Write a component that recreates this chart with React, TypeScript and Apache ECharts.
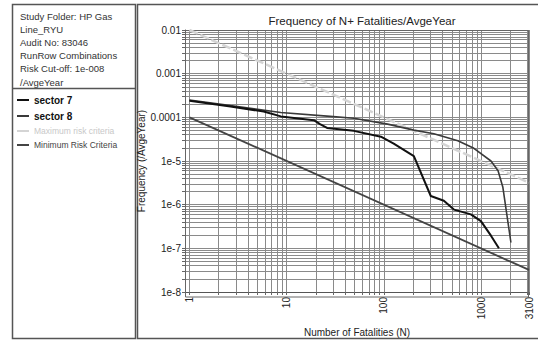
import React, { useEffect, useRef } from 'react';
import * as echarts from 'echarts';

// Series data (N fatalities, frequency per average year)
const sector7N = [1, 2.64, 5.8, 8.7, 19, 22, 26, 49, 93, 126, 203, 303, 413, 524, 783, 993, 1260, 1520];
const sector7F = [2.4e-4, 1.76e-4, 1.36e-4, 1.05e-4, 8.6e-5, 7.0e-5, 5.7e-5, 4.9e-5, 3.6e-5, 2.5e-5, 1.29e-5, 1.58e-6, 1.23e-6, 7.7e-7, 6.0e-7, 4.2e-7, 1.95e-7, 1.0e-7];
const sector8N = [1, 2.64, 8.7, 28, 49, 109, 203, 326, 575, 841, 1260, 1490, 1670, 2020];
const sector8F = [2.5e-4, 1.85e-4, 1.29e-4, 1.05e-4, 9.5e-5, 7.0e-5, 5.1e-5, 4.2e-5, 2.9e-5, 1.95e-5, 1.0e-5, 6.0e-6, 2.5e-6, 1.36e-7];
const criteriaN = [1, 3100];
const maxRiskF = [1e-2, 3.2e-6];
const minRiskF = [1e-4, 3.2e-8];

const xLabelValues = [1, 10, 100, 1000, 3100];
const yLabelValues = [1e-8, 1e-7, 1e-6, 1e-5, 1e-4, 1e-3, 1e-2];
const xDecades = [0, 1, 2, 3];
const yDecades = [-8, -7, -6, -5, -4, -3];
const multipliers = [1, 2, 3, 4, 5, 6, 7, 8, 9];

const infoLines = [
  'Study Folder: HP Gas',
  'Line_RYU',
  'Audit No: 83046',
  'RunRow Combinations',
  'Risk Cut-off: 1e-008',
  '/AvgeYear',
];

const FONT = '"Liberation Sans", Arial, sans-serif';

function gridValues(decades: number[], maxV: number) {
  const out: number[] = [];
  decades.forEach((e) => {
    multipliers.forEach((k) => {
      const v = Number((k * Math.pow(10, e)).toPrecision(3));
      if (v <= maxV) out.push(v);
    });
  });
  if (out[out.length - 1] !== maxV) out.push(maxV);
  return out;
}

const pairs = (xs: number[], ys: number[]) => xs.map((x, i) => [x, ys[i]]);

export default function App() {
  const ref = useRef<HTMLDivElement>(null);
  useEffect(() => {
    document.body.style.margin = '0';
    if (!ref.current) return;
    const chart = echarts.init(ref.current, undefined, { renderer: 'svg' });
    const xTicks = gridValues(xDecades, 3100);
    const yTicks = gridValues(yDecades, 1e-2);
    const gridColor = '#8a8a8a';
    chart.setOption({
      animation: false,
      backgroundColor: '#fff',
      title: {
        text: 'Frequency of N+ Fatalities/AvgeYear',
        left: 357,
        textAlign: 'center',
        top: 10,
        textStyle: { fontFamily: FONT, fontSize: 11.5, fontWeight: 'normal', color: '#222' },
      },
      legend: {
        orient: 'vertical',
        left: 17,
        top: 93,
        padding: 0,
        itemWidth: 12,
        itemHeight: 2,
        itemGap: 2,
        icon: 'rect',
        data: [
          { name: 'sector 7', textStyle: { fontWeight: 'bold', fontSize: 10, color: '#111', lineHeight: 14 } },
          { name: 'sector 8', textStyle: { fontWeight: 'bold', fontSize: 10, color: '#111', lineHeight: 14 } },
          { name: 'Maximum risk criteria', textStyle: { fontSize: 8.5, color: '#c8c8c8', lineHeight: 12 } },
          { name: 'Minimum Risk Criteria', textStyle: { fontSize: 8.5, color: '#444', lineHeight: 12 } },
        ],
        textStyle: { fontFamily: FONT, padding: [0, 0, 0, 0] },
      },
      grid: { left: 185, right: 9, top: 30, bottom: 45, containLabel: false },
      xAxis: {
        type: 'log',
        min: 0.9,
        max: 3100,
        name: 'Number of Fatalities (N)',
        nameLocation: 'middle',
        nameGap: 35,
        nameMoveOverlap: false,
        nameTextStyle: { fontFamily: FONT, fontSize: 10, color: '#222' },
        axisLine: { show: true, lineStyle: { color: '#555', width: 1 } },
        axisTick: { show: true, length: 3, customValues: xTicks, lineStyle: { color: '#666' } },
        axisLabel: {
          customValues: xLabelValues,
          rotate: 90,
          margin: 5,
          fontFamily: FONT,
          fontSize: 10,
          color: '#222',
          formatter: (v: number) => String(Math.round(v)),
        },
        splitLine: { show: true, lineStyle: { color: gridColor, width: 1 } },
        minorSplitLine: { show: false },
      },
      yAxis: {
        type: 'log',
        min: 1e-8,
        max: 1e-2,
        name: 'Frequency (/AvgeYear)',
        nameLocation: 'middle',
        nameGap: 39,
        nameMoveOverlap: false,
        nameTextStyle: { fontFamily: FONT, fontSize: 10, color: '#222' },
        axisLine: { show: true, lineStyle: { color: '#555', width: 1 } },
        axisTick: { show: true, length: 3, customValues: yTicks, lineStyle: { color: '#666' } },
        axisLabel: {
          customValues: yLabelValues,
          margin: 4,
          fontFamily: FONT,
          fontSize: 10,
          color: '#222',
          formatter: (v: number) => {
            const e = Math.round(Math.log10(v));
            return e >= -4 ? String(Math.pow(10, e)) : `1e${e}`;
          },
        },
        splitLine: { show: true, lineStyle: { color: gridColor, width: 1 } },
      },
      series: [
        {
          name: 'sector 7',
          type: 'line',
          data: pairs(sector7N, sector7F),
          showSymbol: false,
          symbol: 'none',
          lineStyle: { color: '#111', width: 2 },
          itemStyle: { color: '#111' },
          z: 5,
        },
        {
          name: 'sector 8',
          type: 'line',
          data: pairs(sector8N, sector8F),
          showSymbol: false,
          symbol: 'none',
          lineStyle: { color: '#3a3a3a', width: 1.6 },
          itemStyle: { color: '#3a3a3a' },
          z: 4,
        },
        {
          name: 'Maximum risk criteria',
          type: 'line',
          data: pairs(criteriaN, maxRiskF),
          showSymbol: false,
          symbol: 'none',
          lineStyle: { color: '#d4d4d4', width: 2.5, type: [9, 3] },
          itemStyle: { color: '#d4d4d4' },
          z: 3,
        },
        {
          name: 'Minimum Risk Criteria',
          type: 'line',
          data: pairs(criteriaN, minRiskF),
          showSymbol: false,
          symbol: 'none',
          lineStyle: { color: '#444', width: 1.8 },
          itemStyle: { color: '#444' },
          z: 3,
        },
      ],
      graphic: [
        {
          type: 'rect',
          shape: { x: 12.5, y: 4.5, width: 123, height: 334 },
          style: { fill: 'none', stroke: '#555', lineWidth: 1.5 },
          silent: true,
        },
        {
          type: 'line',
          shape: { x1: 12.5, y1: 88.5, x2: 135.5, y2: 88.5 },
          style: { stroke: '#555', lineWidth: 1.5 },
          silent: true,
        },
        {
          type: 'rect',
          shape: { x: 137.5, y: 4.5, width: 410, height: 334 },
          style: { fill: 'none', stroke: '#555', lineWidth: 1.5 },
          silent: true,
        },
        {
          type: 'rect',
          shape: { x: 185.5, y: 30.5, width: 343, height: 266.5 },
          style: { fill: 'none', stroke: '#666', lineWidth: 1 },
          silent: true,
          z: 1,
        },
        ...infoLines.map((t, i) => ({
          type: 'text',
          left: 20,
          top: 11 + i * 13.2,
          style: { text: t, fontFamily: FONT, fontSize: 9.5, fill: '#333' },
          silent: true,
        })),
      ],
    });
    return () => chart.dispose();
  }, []);
  return <div ref={ref} style={{ width: 538, height: 342 }} />;
}
